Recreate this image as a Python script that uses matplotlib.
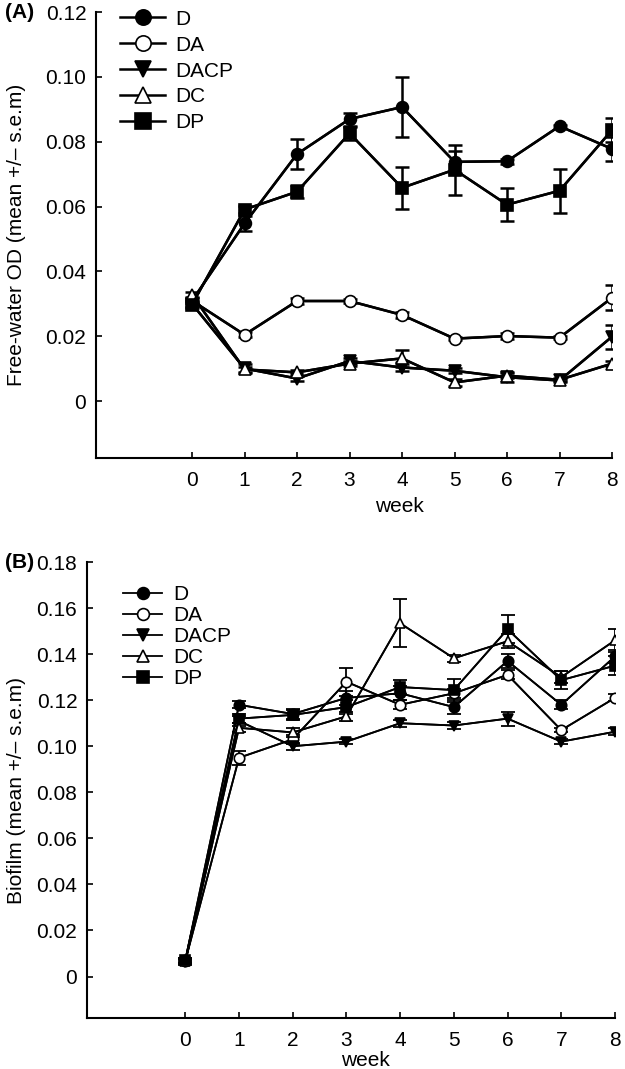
import numpy as np
import matplotlib.pyplot as plt

plt.rcParams['font.family'] = ['Liberation Sans', 'DejaVu Sans']

weeks = [0, 1, 2, 3, 4, 5, 6, 7, 8]
groups = ['D', 'DA', 'DACP', 'DC', 'DP']

# (A) free-water OD
water_mean = {
    'D':    [0.031, 0.0548, 0.0762, 0.0870, 0.0907, 0.0738, 0.0740, 0.0848, 0.0778],
    'DA':   [0.031, 0.0205, 0.0309, 0.0309, 0.0266, 0.0193, 0.0201, 0.0196, 0.0319],
    'DACP': [0.030, 0.0101, 0.0070, 0.0124, 0.0104, 0.0094, 0.0074, 0.0064, 0.0199],
    'DC':   [0.0328, 0.0098, 0.0089, 0.0116, 0.0132, 0.0058, 0.0079, 0.0066, 0.0116],
    'DP':   [0.0298, 0.0591, 0.0646, 0.0826, 0.0658, 0.0714, 0.0606, 0.0649, 0.0836],
}
water_sem = {
    'D':    [0.0008, 0.0022, 0.0047, 0.0020, 0.0093, 0.0034, 0.0008, 0.0005, 0.0037],
    'DA':   [0.0008, 0.0008, 0.0010, 0.0005, 0.0010, 0.0005, 0.0008, 0.0005, 0.0039],
    'DACP': [0.0008, 0.0015, 0.0008, 0.0008, 0.0012, 0.0008, 0.0015, 0.0005, 0.0037],
    'DC':   [0.0008, 0.0008, 0.0008, 0.0008, 0.0025, 0.0010, 0.0008, 0.0005, 0.0008],
    'DP':   [0.0010, 0.0010, 0.0020, 0.0020, 0.0065, 0.0077, 0.0050, 0.0068, 0.0037],
}

# (B) biofilm
film_mean = {
    'D':    [0.0070, 0.1180, 0.1140, 0.1210, 0.1230, 0.1170, 0.1370, 0.1180, 0.1390],
    'DA':   [0.0068, 0.0950, 0.1030, 0.1280, 0.1180, 0.1230, 0.1310, 0.1070, 0.1210],
    'DACP': [0.0062, 0.1110, 0.1000, 0.1020, 0.1100, 0.1090, 0.1120, 0.1020, 0.1063],
    'DC':   [0.0066, 0.1080, 0.1060, 0.1130, 0.1534, 0.1382, 0.1456, 0.1300, 0.1460],
    'DP':   [0.0072, 0.1120, 0.1136, 0.1170, 0.1257, 0.1244, 0.1508, 0.1287, 0.1350],
}
film_sem = {
    'D':    [0.0010, 0.0015, 0.0020, 0.0030, 0.0030, 0.0030, 0.0030, 0.0020, 0.0030],
    'DA':   [0.0010, 0.0030, 0.0020, 0.0060, 0.0020, 0.0020, 0.0020, 0.0010, 0.0015],
    'DACP': [0.0010, 0.0020, 0.0015, 0.0010, 0.0015, 0.0015, 0.0030, 0.0010, 0.0015],
    'DC':   [0.0010, 0.0020, 0.0020, 0.0020, 0.0105, 0.0015, 0.0030, 0.0025, 0.0050],
    'DP':   [0.0010, 0.0020, 0.0020, 0.0030, 0.0030, 0.0050, 0.0060, 0.0040, 0.0040],
}

markers = {'D': 'o', 'DA': 'o', 'DACP': 'v', 'DC': '^', 'DP': 's'}
faces = {'D': 'k', 'DA': 'w', 'DACP': 'k', 'DC': 'w', 'DP': 'k'}
FS = 15


def draw_panel(ax, means, sems, ms, lw, leg_ms, leg_len, leg_spacing, leg_anchor,
               ylim, yticks, ylabel, tag, tag_x):
    handles = []
    for g in groups:
        ax.errorbar(weeks, means[g], yerr=sems[g], color='k', lw=lw,
                    elinewidth=lw, capsize=5, capthick=lw, zorder=2)
        h, = ax.plot(weeks, means[g], color='k', lw=lw, marker=markers[g],
                     ms=ms, mfc=faces[g], mec='k', mew=1.2, zorder=3)
        handles.append(h)
    ax.legend(handles, groups, loc='upper left', bbox_to_anchor=leg_anchor,
              frameon=False, fontsize=FS, handlelength=leg_len, handletextpad=0.5,
              labelspacing=leg_spacing, borderpad=0, borderaxespad=0,
              markerscale=leg_ms / ms)
    ax.set_xlim(-1.83, 8)
    ax.set_ylim(*ylim)
    ax.set_xticks(weeks)
    ax.set_yticks(yticks)
    ax.set_yticklabels(['0' if v == 0 else '%.2f' % v for v in yticks])
    ax.spines['top'].set_visible(False)
    ax.spines['right'].set_visible(False)
    ax.spines['left'].set_linewidth(1.5)
    ax.spines['bottom'].set_linewidth(1.5)
    ax.spines['left'].set_bounds(ylim[0], yticks[-1])
    ax.tick_params(direction='in', length=4.5, width=1.2, labelsize=FS)
    ax.tick_params(axis='y', pad=7)
    ax.tick_params(axis='x', pad=9)
    ax.set_xlabel('week', fontsize=FS)
    ax.set_ylabel(ylabel, fontsize=FS)
    ax.text(tag_x, 1.0, tag, transform=ax.transAxes, fontsize=FS,
            fontweight='bold', ha='left', va='center')


fig = plt.figure(figsize=(6.25, 10.69), dpi=100)
W, H = 625, 1069
axA = fig.add_axes([96 / W, 1 - 458 / H, 516 / W, 446 / H])
axB = fig.add_axes([87 / W, 1 - 1018 / H, 528 / W, 456 / H])

draw_panel(axA, water_mean, water_sem, 8.5, 1.8, 11, 2.15, 0.33, (0.047, 1.005),
           (-0.0175, 0.12), [0, 0.02, 0.04, 0.06, 0.08, 0.10, 0.12],
           'Free-water OD (mean +/– s.e.m)', '(A)', -0.176)
draw_panel(axB, film_mean, film_sem, 7.5, 1.3, 8.5, 1.9, 0.1, (0.068, 0.95),
           (-0.018, 0.18), [0, 0.02, 0.04, 0.06, 0.08, 0.10, 0.12, 0.14, 0.16, 0.18],
           'Biofilm (mean +/– s.e.m)', '(B)', -0.155)

axA.xaxis.set_label_coords(0.589, -0.088)
axB.xaxis.set_label_coords(0.528, -0.072)
axA.yaxis.set_label_coords(-0.136, 0.5)
axB.yaxis.set_label_coords(-0.116, 0.5)

fig.savefig('out.png', dpi=100)
